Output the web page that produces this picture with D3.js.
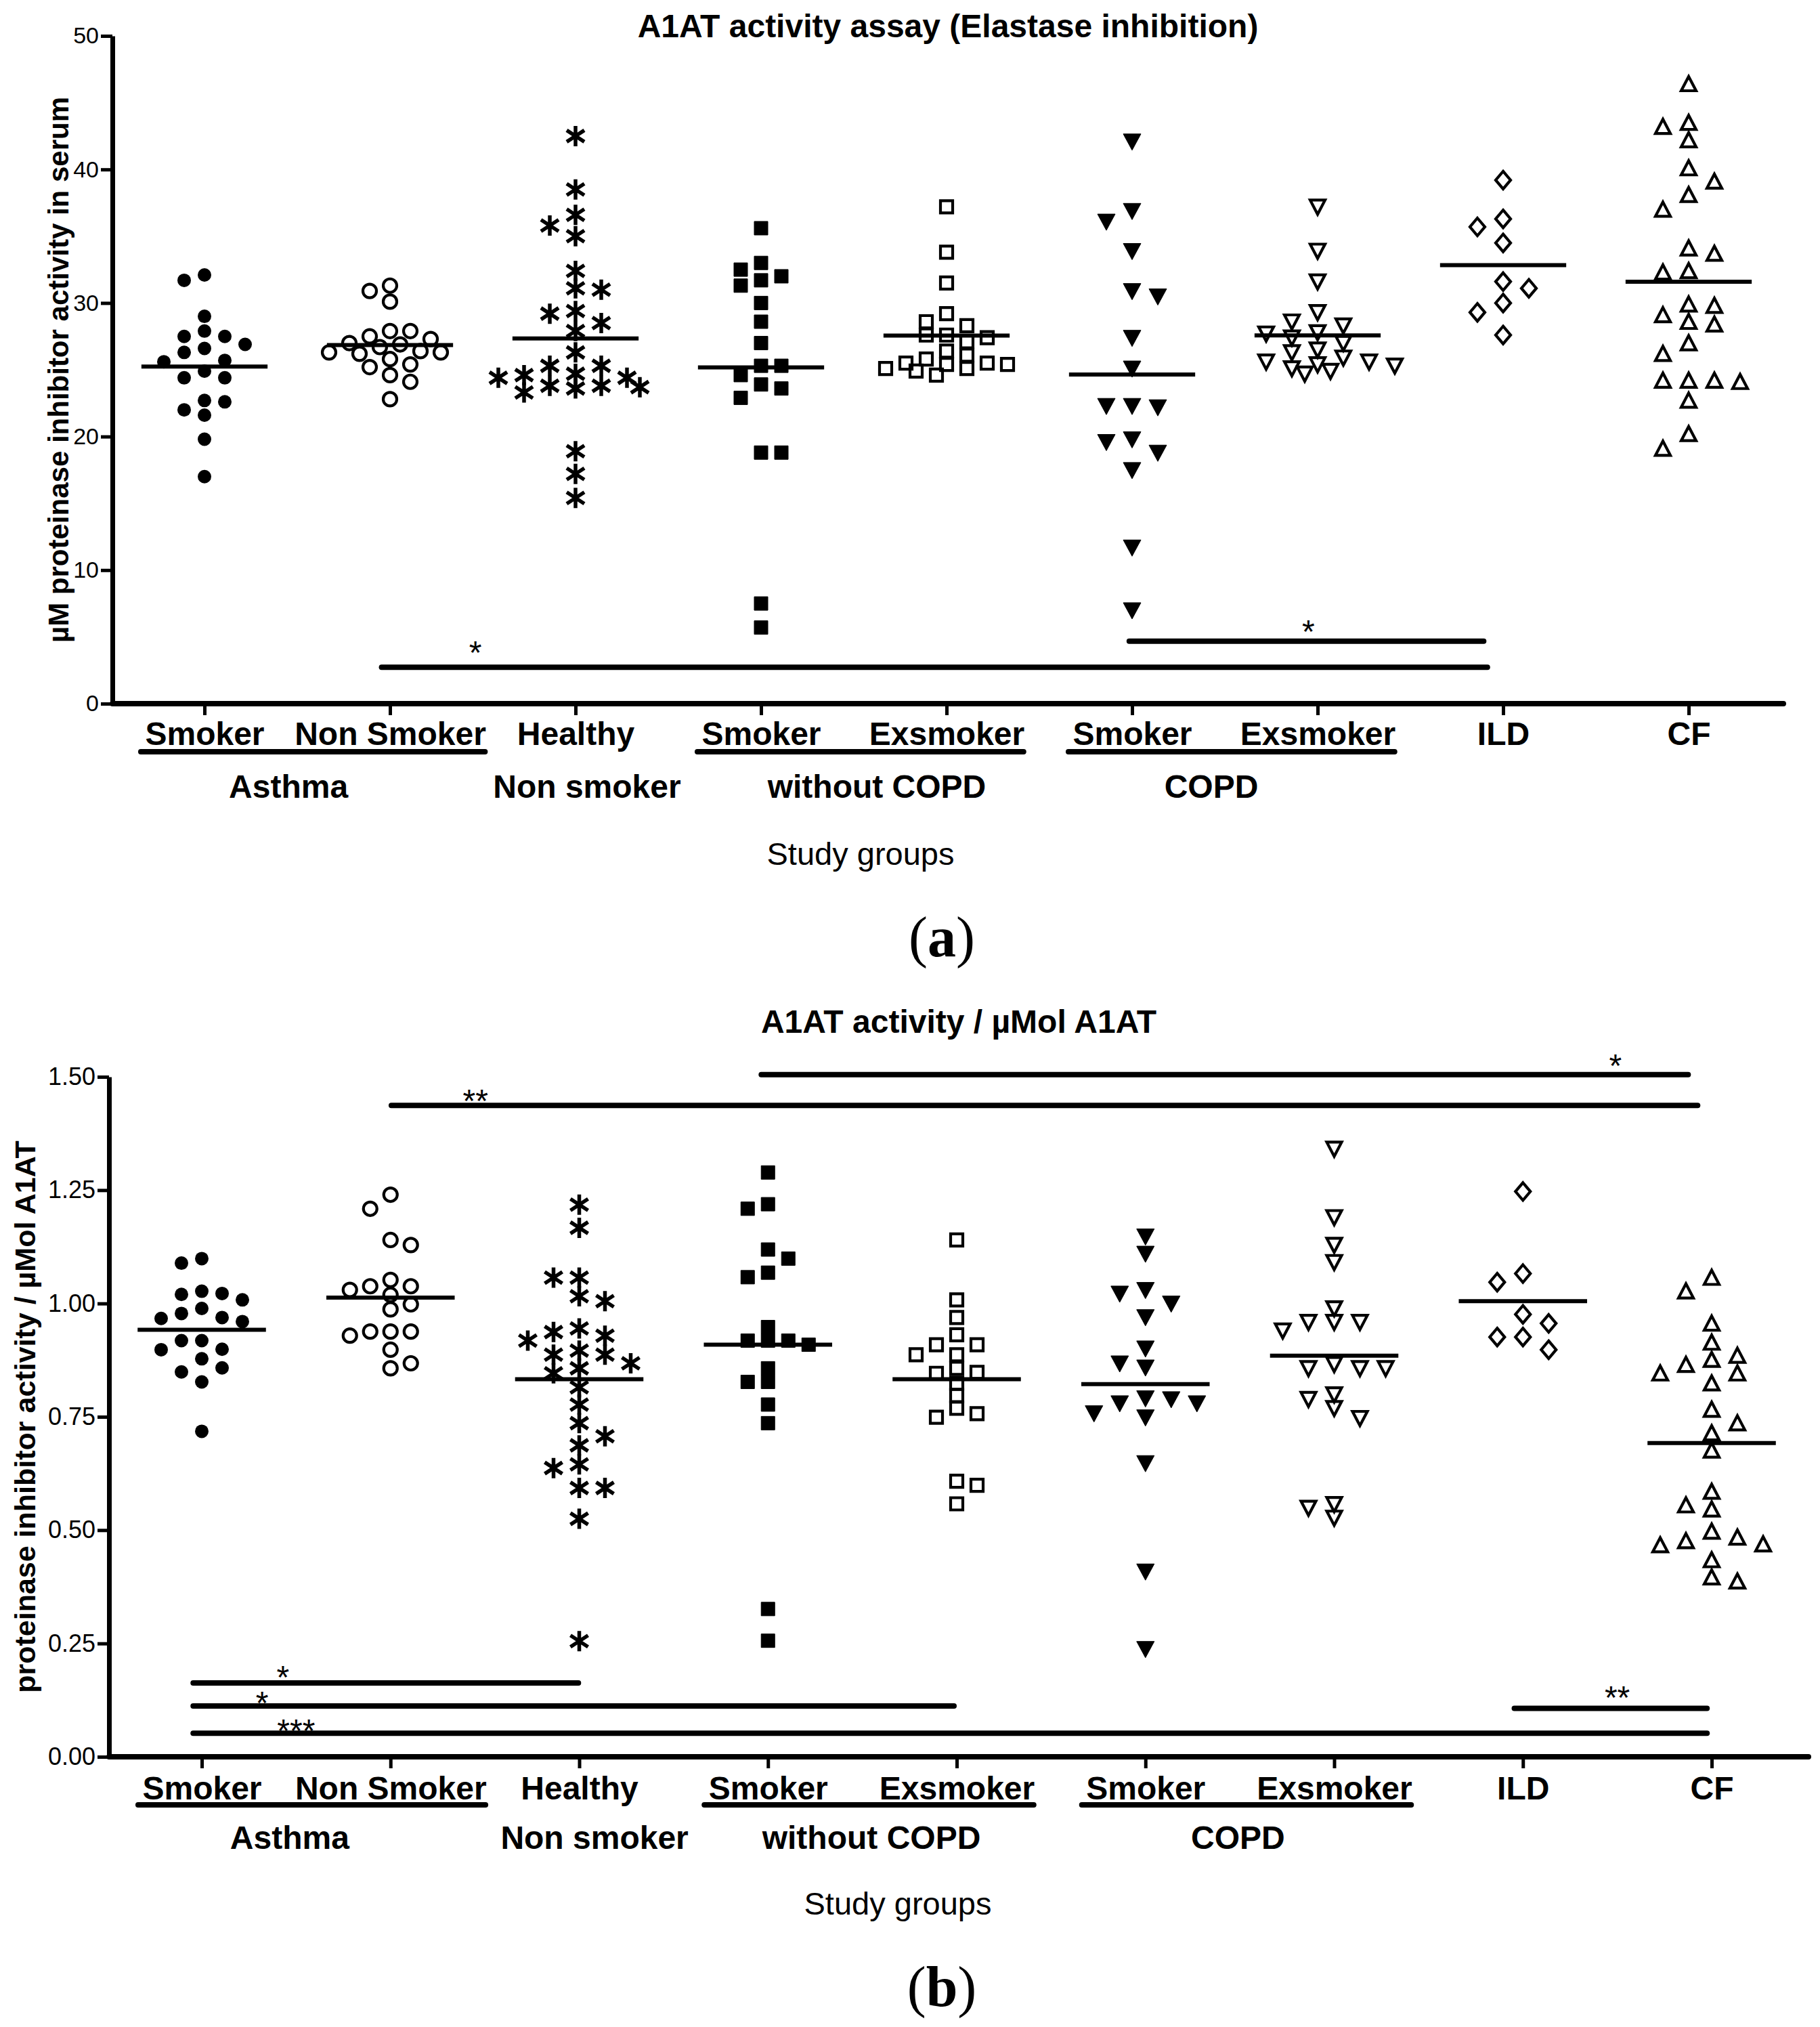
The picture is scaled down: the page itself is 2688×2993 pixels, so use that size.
<!DOCTYPE html>
<html><head><meta charset="utf-8">
<script src="https://cdn.jsdelivr.net/npm/d3@7"></script>
<style>html,body{margin:0;padding:0;background:#fff}svg{display:block}</style>
</head><body>
<svg id="chart" width="2688" height="2993"></svg>
<script>
// ---------------- DATA ----------------
const categories = ["Smoker","Non Smoker","Healthy","Smoker","Exsmoker","Smoker","Exsmoker","ILD","CF"];
const groupLabels = ["Asthma","Non smoker","without COPD","COPD"];
const underlineGroups = [[0,1],[3,4],[5,6]];
const markerTypes = ["circleFilled","circleOpen","asterisk","squareFilled","squareOpen","triDownFilled","triDownOpen","diamondOpen","triUpOpen"];

// Panel (a): µM proteinase inhibitor activity in serum
const aAsthmaSmoker    = [32.1,31.7,29.0,27.5,27.5,27.9,26.9,26.6,26.3,25.6,25.7,24.4,24.4,24.9,22.6,22.7,22.0,21.6,19.8,17.0];
const aAsthmaNonSmoker = [31.3,30.9,30.1,27.9,27.9,27.3,27.5,27.0,26.7,26.9,26.2,26.3,26.4,26.3,25.4,25.2,25.8,24.6,24.1,22.8];
const aHealthy         = [42.5,38.5,36.6,35.8,35.0,32.4,31.1,31.0,29.4,29.2,28.5,27.9,26.3,25.3,25.3,24.7,24.6,24.4,24.4,23.8,23.7,23.3,23.6,23.8,18.9,17.2,15.4];
const aNoCopdSmoker    = [35.6,32.5,33.0,31.7,31.3,32.0,30.0,28.6,27.0,25.3,25.3,24.6,23.6,23.9,22.9,18.8,18.8,7.5,5.7];
const aNoCopdExsmoker  = [37.2,33.8,31.5,29.2,28.3,28.6,27.4,27.6,27.6,27.1,26.4,26.1,25.4,25.1,25.5,25.1,25.5,24.9,25.8,25.4,24.6];
const aCopdSmoker      = [42.1,36.9,36.1,33.9,30.9,30.5,27.4,25.1,22.3,22.2,22.3,19.6,19.8,18.8,17.5,11.7,7.0];
const aCopdExsmoker    = [37.2,33.9,31.6,29.3,28.6,28.3,27.8,27.4,27.7,27.0,26.5,26.3,25.6,25.6,25.9,25.4,25.1,24.7,24.9,25.3];
const aILD             = [39.2,36.3,35.7,34.5,31.1,31.6,30.0,29.3,27.6];
const aCF              = [46.4,43.2,43.5,42.2,40.1,38.1,39.1,37.0,33.7,34.1,32.3,32.4,29.8,29.9,28.6,28.4,29.1,26.2,27.0,24.2,24.1,24.2,24.2,22.7,20.2,19.1];
const aMedians         = [25.24,26.85,27.35,25.18,27.56,24.64,27.57,32.83,31.59];
const aTicks           = [0,10,20,30,40,50];
// significance bars: from/to in category index units, y value, label, label position
const aSig = [
  {from:0.94, to:6.93, y:2.73, label:"*",  lx:1.46, ly:4.4},
  {from:4.97, to:6.91, y:4.68, label:"*",  lx:5.95, ly:6.0}
];
const aGroupPos = [0.453, 2.062, 3.624, 5.427];

// Panel (b): proteinase inhibitor activity / µMol A1AT
const bAsthmaSmoker    = [1.099,1.089,1.022,1.008,1.020,1.027,0.978,0.967,0.960,0.969,0.989,0.918,0.918,0.899,0.878,0.898,0.849,0.858,0.827,0.718];
const bAsthmaNonSmoker = [1.240,1.209,1.129,1.140,1.038,1.019,1.052,1.038,1.030,0.987,0.998,0.938,0.938,0.929,0.938,0.898,0.857,0.868];
const bHealthy         = [1.218,1.167,1.057,1.057,1.016,1.005,0.945,0.937,0.918,0.929,0.887,0.896,0.887,0.857,0.846,0.868,0.815,0.777,0.736,0.707,0.687,0.637,0.645,0.593,0.593,0.525,0.255];
const bNoCopdSmoker    = [1.289,1.219,1.209,1.119,1.099,1.068,1.058,0.948,0.918,0.909,0.918,0.918,0.857,0.827,0.827,0.777,0.736,0.326,0.256];
const bNoCopdExsmoker  = [1.140,1.008,0.969,0.931,0.909,0.909,0.887,0.887,0.857,0.848,0.846,0.824,0.797,0.769,0.749,0.757,0.608,0.599,0.558];
const bCopdSmoker      = [1.148,1.110,1.030,1.022,1.000,0.970,0.901,0.859,0.868,0.780,0.791,0.780,0.789,0.758,0.749,0.648,0.409,0.238];
const bCopdExsmoker    = [1.341,1.190,1.129,1.091,0.989,0.959,0.959,0.940,0.959,0.857,0.857,0.857,0.866,0.799,0.769,0.789,0.747,0.557,0.549,0.527];
const bILD             = [1.247,1.047,1.066,0.976,0.956,0.926,0.926,0.898];
const bCF              = [1.057,1.027,0.956,0.914,0.885,0.876,0.865,0.846,0.824,0.846,0.766,0.736,0.714,0.676,0.585,0.546,0.555,0.484,0.469,0.467,0.476,0.497,0.434,0.387,0.396];
const bMedians         = [0.942,1.013,0.833,0.909,0.833,0.822,0.885,1.005,0.692];
const bTicks           = [0,0.25,0.5,0.75,1.0,1.25,1.5];
const bSig = [
  {from:-0.06, to:2.01, y:0.163, label:"*",   lx:0.43, ly:0.192},
  {from:-0.06, to:4.00, y:0.112, label:"*",   lx:0.32, ly:0.135},
  {from:-0.06, to:7.99, y:0.052, label:"***", lx:0.50, ly:0.074},
  {from:0.99,  to:7.94, y:1.437, label:"**",  lx:1.45, ly:1.464},
  {from:2.95,  to:7.89, y:1.505, label:"*",   lx:7.49, ly:1.542},
  {from:6.94,  to:7.99, y:0.107, label:"**",  lx:7.50, ly:0.148}
];
const bGroupPos = [0.466, 2.081, 3.548, 5.49];

// ---------------- LAYOUT / STYLE ----------------
const FONT = "'Liberation Sans', Arial, Helvetica, sans-serif";
const SERIF = "'Liberation Serif', 'Times New Roman', Times, serif";
const markerStyle = {
  circleFilled:{slot:30,min:20}, circleOpen:{slot:30,min:21}, asterisk:{slot:38,min:20},
  squareFilled:{slot:30,min:20}, squareOpen:{slot:30,min:18}, triDownFilled:{slot:38,min:24},
  triDownOpen:{slot:38,min:20}, diamondOpen:{slot:38,min:25}, triUpOpen:{slot:38,min:23}
};
const slotOrder = [0,1,2,0.5,1.5,2.5,3,3.5,4,4.5,5,5.5,6];

const panels = [
  { title:"A1AT activity assay (Elastase inhibition)",
    ylabel:"µM proteinase inhibitor activity in serum",
    series:[aAsthmaSmoker,aAsthmaNonSmoker,aHealthy,aNoCopdSmoker,aNoCopdExsmoker,aCopdSmoker,aCopdExsmoker,aILD,aCF],
    medians:aMedians, ticks:aTicks, fmt:d3.format("d"), domain:[0,50], sig:aSig, groupPos:aGroupPos, tag:"a",
    L:{axisX:166, axisY:1039, yTop:53, xEnd:2634, catRange:[302,2494], titleY:55, ylabelX:101, ylabelFont:42,
       tickFont:34, catBase:1100, underlineY:1110, groupBase:1178, studyX:1271, studyY:1277, tagY:1412} },
  { title:"A1AT activity / µMol A1AT",
    ylabel:"proteinase inhibitor activity / µMol A1AT",
    series:[bAsthmaSmoker,bAsthmaNonSmoker,bHealthy,bNoCopdSmoker,bNoCopdExsmoker,bCopdSmoker,bCopdExsmoker,bILD,bCF],
    medians:bMedians, ticks:bTicks, fmt:d3.format(".2f"), domain:[0,1.5], sig:bSig, groupPos:bGroupPos, tag:"b",
    L:{axisX:161, axisY:2594, yTop:1590, xEnd:2671, catRange:[298,2528], titleY:1525, ylabelX:52, ylabelFont:43,
       tickFont:36, catBase:2657, underlineY:2665, groupBase:2730, studyX:1326, studyY:2827, tagY:2962} }
];

// ---------------- HELPERS ----------------
function swarm(values, yScale, cx, slot, minDist) {
  const order = values.map((v,i)=>({v,i})).sort((a,b)=>b.v-a.v);
  const placed = [];
  const out = new Array(values.length);
  let side = -1;
  for (const p of order) {
    const yy = yScale(p.v);
    let off = null;
    for (const o of slotOrder) {
      const cands = o === 0 ? [0] : [side*o, -side*o];
      for (const c of cands) {
        const xx = c*slot;
        if (!placed.some(q=>Math.hypot(q.x-xx,q.y-yy) < minDist)) { off = c; break; }
      }
      if (off !== null) break;
    }
    if (off === null) off = 0;
    if (off !== 0) side = -side;
    placed.push({x:off*slot, y:yy});
    out[p.i] = {x:cx+off*slot, y:yy, v:p.v};
  }
  return out;
}

function markerPath(type, x, y) {
  const p = d3.path();
  switch(type){
    case "circleFilled": p.moveTo(x+10,y); p.arc(x,y,10,0,2*Math.PI); break;
    case "circleOpen":   p.moveTo(x+10,y); p.arc(x,y,10,0,2*Math.PI); break;
    case "asterisk":
      p.moveTo(x,y-15); p.lineTo(x,y+15);
      p.moveTo(x-13,y-8.5); p.lineTo(x+13,y+8.5);
      p.moveTo(x-13,y+8.5); p.lineTo(x+13,y-8.5); break;
    case "squareFilled": p.rect(x-10,y-10,20,20); break;
    case "squareOpen":   p.rect(x-9,y-9,18,18); break;
    case "triDownFilled": p.moveTo(x-13,y-11); p.lineTo(x+13,y-11); p.lineTo(x,y+13); p.closePath(); break;
    case "triDownOpen":   p.moveTo(x-11,y-10); p.lineTo(x+11,y-10); p.lineTo(x,y+11); p.closePath(); break;
    case "diamondOpen":   p.moveTo(x,y-13); p.lineTo(x+11,y); p.lineTo(x,y+13); p.lineTo(x-11,y); p.closePath(); break;
    case "triUpOpen":     p.moveTo(x,y-11); p.lineTo(x+11,y+10); p.lineTo(x-11,y+10); p.closePath(); break;
  }
  return p.toString();
}
function isFilled(t){ return t==="circleFilled"||t==="squareFilled"||t==="triDownFilled"; }

// ---------------- DRAW ----------------
const svg = d3.select("#chart");
svg.append("rect").attr("width",2688).attr("height",2993).attr("fill","#fff");

panels.forEach(P => {
  const L = P.L;
  const g = svg.append("g");
  const y = d3.scaleLinear().domain(P.domain).range([L.axisY, L.yTop]);
  const x = d3.scalePoint().domain(d3.range(categories.length)).range(L.catRange);
  const xi = d3.scaleLinear().domain([0, categories.length-1]).range(L.catRange);
  const step = x.step();

  // title
  g.append("text").attr("x",(L.axisX+L.xEnd)/2).attr("y",L.titleY).attr("text-anchor","middle")
    .attr("font-family",FONT).attr("font-weight","bold").attr("font-size",48).text(P.title);

  // y label
  g.append("text").attr("transform",`translate(${L.ylabelX},${(L.axisY+L.yTop)/2}) rotate(-90)`)
    .attr("text-anchor","middle").attr("font-family",FONT).attr("font-weight","bold")
    .attr("font-size",L.ylabelFont).text(P.ylabel);

  // y axis
  const gy = g.append("g").attr("transform",`translate(${L.axisX},0)`)
    .call(d3.axisLeft(y).tickValues(P.ticks).tickFormat(P.fmt).tickSize(17).tickSizeOuter(0).tickPadding(3));
  gy.select(".domain").attr("stroke","#000").attr("stroke-width",7);
  gy.selectAll(".tick line").attr("stroke","#000").attr("stroke-width",5);
  gy.selectAll(".tick text").attr("font-size",L.tickFont).attr("font-family",FONT).attr("fill","#000");

  // x axis
  const gx = g.append("g").attr("transform",`translate(0,${L.axisY})`)
    .call(d3.axisBottom(x).tickSize(17).tickSizeOuter(0).tickFormat(i=>categories[i]));
  gx.select(".domain").remove();
  gx.selectAll(".tick line").attr("stroke","#000").attr("stroke-width",5);
  gx.selectAll(".tick text").attr("y",L.catBase-L.axisY).attr("dy",0)
    .attr("font-size",48).attr("font-weight","bold").attr("font-family",FONT).attr("fill","#000");
  gx.append("line").attr("x1",L.axisX).attr("x2",L.xEnd).attr("y1",0).attr("y2",0)
    .attr("stroke","#000").attr("stroke-width",8).attr("stroke-linecap","round");

  // underlines for grouped categories
  const widths = [];
  gx.selectAll(".tick text").each(function(d){ widths[d] = this.getComputedTextLength(); });
  g.selectAll("line.ul").data(underlineGroups).join("line").attr("class","ul")
    .attr("x1",d=>x(d[0])-widths[d[0]]/2-6).attr("x2",d=>x(d[1])+widths[d[1]]/2-1)
    .attr("y1",L.underlineY).attr("y2",L.underlineY)
    .attr("stroke","#000").attr("stroke-width",8).attr("stroke-linecap","round");

  // group labels
  g.selectAll("text.grp").data(groupLabels).join("text").attr("class","grp")
    .attr("x",(d,i)=>xi(P.groupPos[i])).attr("y",L.groupBase).attr("text-anchor","middle")
    .attr("font-family",FONT).attr("font-weight","bold").attr("font-size",48).text(d=>d);

  // axis title
  g.append("text").attr("x",L.studyX).attr("y",L.studyY).attr("text-anchor","middle")
    .attr("font-family",FONT).attr("font-size",47).text("Study groups");

  // panel tag
  const t = g.append("text").attr("x",1391).attr("y",L.tagY).attr("text-anchor","middle")
    .attr("font-family",SERIF).attr("font-size",84);
  t.append("tspan").text("(");
  t.append("tspan").attr("font-weight","bold").text(P.tag);
  t.append("tspan").text(")");

  // points
  P.series.forEach((vals, ci) => {
    const type = markerTypes[ci];
    const st = markerStyle[type];
    const pts = swarm(vals, y, x(ci), st.slot, st.min);
    const filled = isFilled(type);
    g.append("g").selectAll("path").data(pts).join("path")
      .attr("d", d => markerPath(type, d.x, d.y))
      .attr("fill", filled ? "#000" : "none")
      .attr("stroke", "#000")
      .attr("stroke-width", filled ? (type==="circleFilled"?0:1) : (type==="asterisk"?5.5:4.2))
      .attr("stroke-linejoin","miter");
  });

  // median lines
  g.selectAll("line.med").data(P.medians).join("line").attr("class","med")
    .attr("x1",(d,i)=>x(i)-step*0.34).attr("x2",(d,i)=>x(i)+step*0.34)
    .attr("y1",d=>y(d)).attr("y2",d=>y(d)).attr("stroke","#000").attr("stroke-width",6);

  // significance bars
  g.selectAll("line.sig").data(P.sig).join("line").attr("class","sig")
    .attr("x1",d=>xi(d.from)+4).attr("x2",d=>xi(d.to)-4)
    .attr("y1",d=>y(d.y)).attr("y2",d=>y(d.y))
    .attr("stroke","#000").attr("stroke-width",8).attr("stroke-linecap","round");
  g.selectAll("text.sig").data(P.sig).join("text").attr("class","sig")
    .attr("x",d=>xi(d.lx)).attr("y",d=>y(d.ly)+0.58*48).attr("text-anchor","middle")
    .attr("font-family",FONT).attr("font-size",48).text(d=>d.label);
});
</script>
</body></html>
